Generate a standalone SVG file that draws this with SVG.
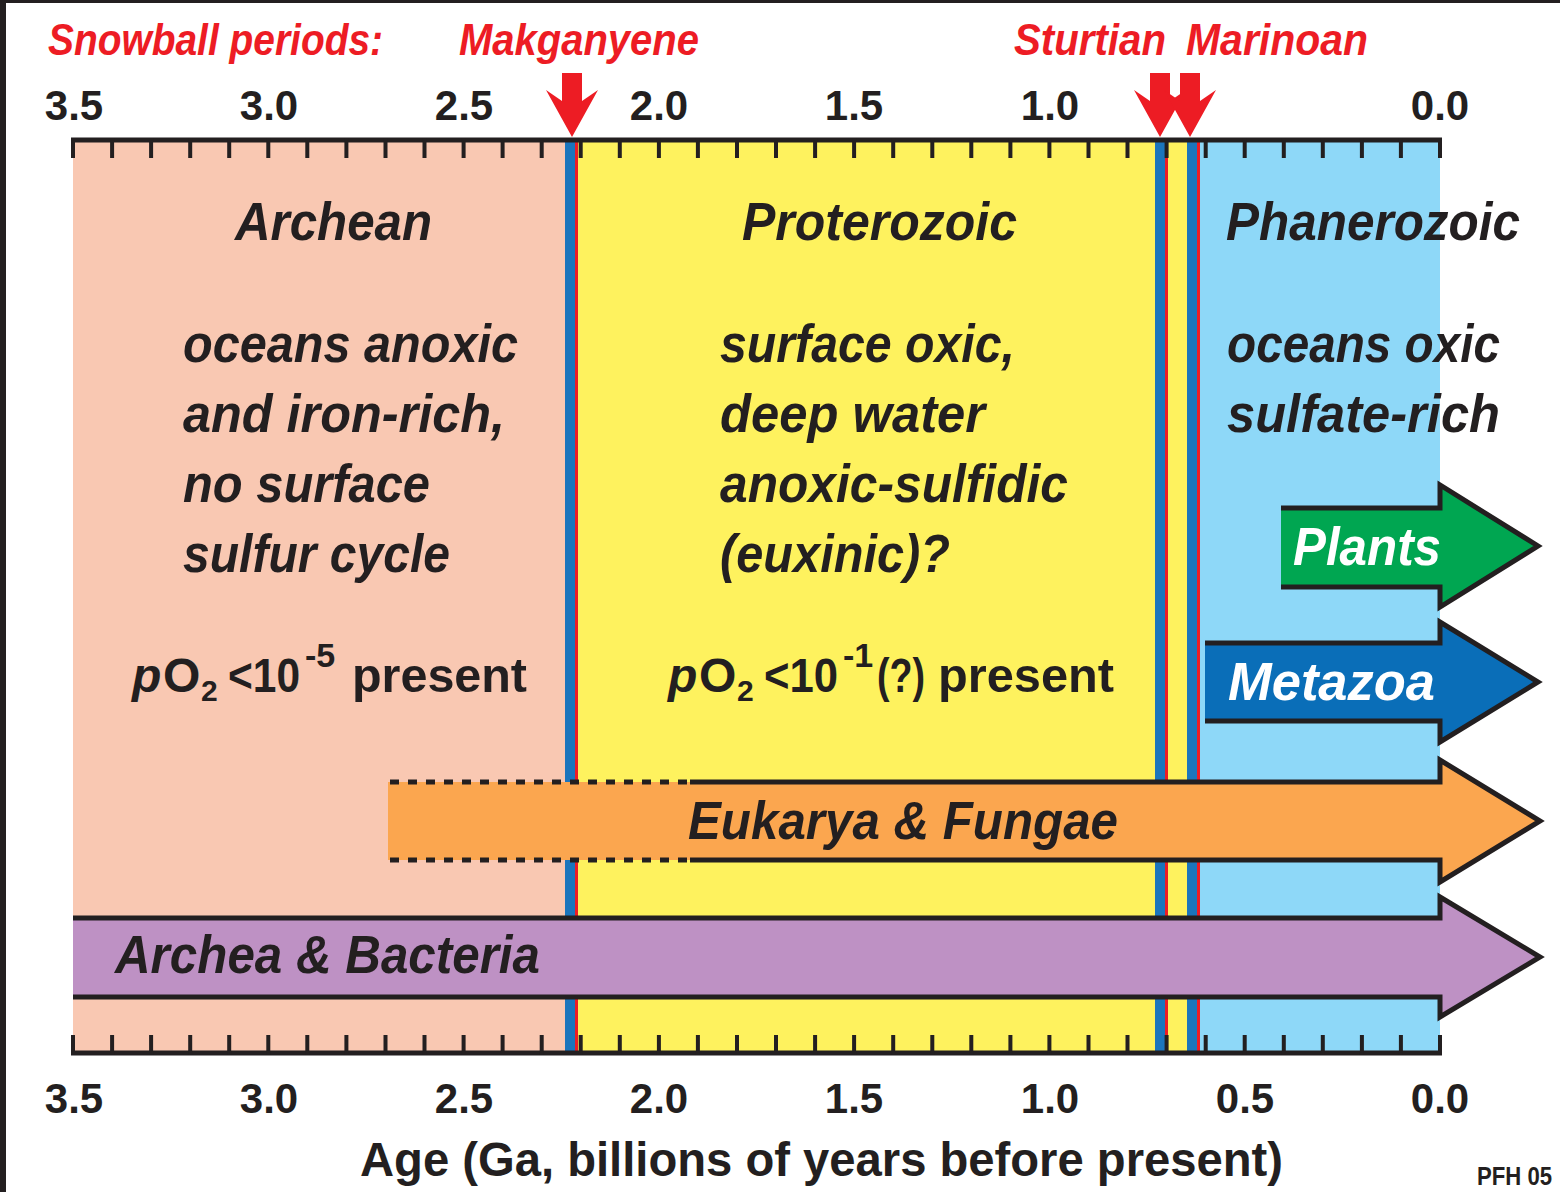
<svg xmlns="http://www.w3.org/2000/svg" width="1560" height="1192" viewBox="0 0 1560 1192">
<style>
.t{font-family:"Liberation Sans",Arial,sans-serif;font-weight:bold}
.i{font-style:italic}
.k{fill:#231F20}
.r{fill:#ED1C24}
.w{fill:#FFFFFF}
.big{font-size:54px}
.num{font-size:42px;text-anchor:middle}
.lab{font-size:44px}
.po{font-size:48px}
.sub{font-size:30px}
.sup{font-size:34px}
.ol{fill:none;stroke:#231F20;stroke-width:5;stroke-linejoin:miter}
.tick{fill:none;stroke:#231F20;stroke-width:4}
.ax{fill:none;stroke:#231F20;stroke-width:5}
</style>
<rect x="0" y="0" width="1560" height="1192" fill="#FFFFFF"/>
<rect x="0" y="0" width="6" height="1192" fill="#231F20"/>
<rect x="0" y="0" width="1560" height="3" fill="#231F20"/>

<g id="eons">
<rect id="archean-bg" x="73" y="140" width="497" height="913" fill="#F9C8B2"/>
<rect id="proterozoic-bg" x="570" y="140" width="630" height="913" fill="#FEF25E"/>
<rect id="phanerozoic-bg" x="1198" y="140" width="242" height="913" fill="#8ED8F8"/>
</g>

<g id="snowball-lines">
<rect x="565" y="140" width="10" height="913" fill="#1B75BC"/>
<rect x="575" y="140" width="3" height="913" fill="#ED1C24"/>
<rect x="1155" y="140" width="10" height="913" fill="#1B75BC"/>
<rect x="1165" y="140" width="3" height="913" fill="#ED1C24"/>
<rect x="1187" y="140" width="10" height="913" fill="#1B75BC"/>
<rect x="1197" y="140" width="3" height="913" fill="#ED1C24"/>
</g>

<g id="axes">
<path class="ax" d="M71,140H1442M71,1053H1442"/>
<path class="tick" d="M73,138V158M112.1,138V158M151.1,138V158M190.2,138V158M229.2,138V158M268.3,138V158M307.3,138V158M346.4,138V158M385.5,138V158M424.5,138V158M463.6,138V158M502.6,138V158M541.7,138V158M580.7,138V158M619.8,138V158M658.9,138V158M697.9,138V158M737,138V158M776,138V158M815.1,138V158M854.1,138V158M893.2,138V158M932.3,138V158M971.3,138V158M1010.4,138V158M1049.4,138V158M1088.5,138V158M1127.5,138V158M1166.6,138V158M1205.7,138V158M1244.7,138V158M1283.8,138V158M1322.8,138V158M1361.9,138V158M1400.9,138V158M1440,138V158"/>
<path class="tick" d="M73,1035V1055M112.1,1035V1055M151.1,1035V1055M190.2,1035V1055M229.2,1035V1055M268.3,1035V1055M307.3,1035V1055M346.4,1035V1055M385.5,1035V1055M424.5,1035V1055M463.6,1035V1055M502.6,1035V1055M541.7,1035V1055M580.7,1035V1055M619.8,1035V1055M658.9,1035V1055M697.9,1035V1055M737,1035V1055M776,1035V1055M815.1,1035V1055M854.1,1035V1055M893.2,1035V1055M932.3,1035V1055M971.3,1035V1055M1010.4,1035V1055M1049.4,1035V1055M1088.5,1035V1055M1127.5,1035V1055M1166.6,1035V1055M1205.7,1035V1055M1244.7,1035V1055M1283.8,1035V1055M1322.8,1035V1055M1361.9,1035V1055M1400.9,1035V1055M1440,1035V1055"/>
<g class="t k num">
<text x="74" y="120">3.5</text>
<text x="269" y="120">3.0</text>
<text x="464" y="120">2.5</text>
<text x="659" y="120">2.0</text>
<text x="854" y="120">1.5</text>
<text x="1050" y="120">1.0</text>
<text x="1440" y="120">0.0</text>
<text x="74" y="1113">3.5</text>
<text x="269" y="1113">3.0</text>
<text x="464" y="1113">2.5</text>
<text x="659" y="1113">2.0</text>
<text x="854" y="1113">1.5</text>
<text x="1050" y="1113">1.0</text>
<text x="1245" y="1113">0.5</text>
<text x="1440" y="1113">0.0</text>
</g>
<text class="t k" x="360" y="1176" font-size="48" textLength="923" lengthAdjust="spacingAndGlyphs">Age (Ga, billions of years before present)</text>
<text class="t k" x="1477" y="1185" font-size="25" textLength="75" lengthAdjust="spacingAndGlyphs">PFH 05</text>
</g>

<g id="snowball-markers">
<text class="t i r lab" x="48" y="55" textLength="335" lengthAdjust="spacingAndGlyphs">Snowball periods:</text>
<text class="t i r lab" x="459" y="55" textLength="240" lengthAdjust="spacingAndGlyphs">Makganyene</text>
<text class="t i r lab" x="1014" y="55" textLength="152" lengthAdjust="spacingAndGlyphs">Sturtian</text>
<text class="t i r lab" x="1186" y="55" textLength="182" lengthAdjust="spacingAndGlyphs">Marinoan</text>
<polygon class="r" points="562,73 582,73 582,101 598,90 572,137 546,90 562,101"/>
<polygon class="r" points="1150,73 1170,73 1170,101 1186,90 1160,137 1134,90 1150,101"/>
<polygon class="r" points="1180,73 1200,73 1200,101 1216,90 1190,137 1164,90 1180,101"/>
</g>

<g id="eon-labels" class="t i k big">
<text x="235" y="240" textLength="197" lengthAdjust="spacingAndGlyphs">Archean</text>
<text x="742" y="240" textLength="275" lengthAdjust="spacingAndGlyphs">Proterozoic</text>
<text x="1226" y="240" textLength="294" lengthAdjust="spacingAndGlyphs">Phanerozoic</text>
<text x="183" y="362" textLength="335" lengthAdjust="spacingAndGlyphs">oceans anoxic</text>
<text x="183" y="432" textLength="322" lengthAdjust="spacingAndGlyphs">and iron-rich,</text>
<text x="183" y="502" textLength="247" lengthAdjust="spacingAndGlyphs">no surface</text>
<text x="183" y="572" textLength="267" lengthAdjust="spacingAndGlyphs">sulfur cycle</text>
<text x="720" y="362" textLength="295" lengthAdjust="spacingAndGlyphs">surface oxic,</text>
<text x="720" y="432" textLength="265" lengthAdjust="spacingAndGlyphs">deep water</text>
<text x="720" y="502" textLength="348" lengthAdjust="spacingAndGlyphs">anoxic-sulfidic</text>
<text x="720" y="572" textLength="230" lengthAdjust="spacingAndGlyphs">(euxinic)?</text>
<text x="1227" y="362" textLength="273" lengthAdjust="spacingAndGlyphs">oceans oxic</text>
<text x="1227" y="432" textLength="273" lengthAdjust="spacingAndGlyphs">sulfate-rich</text>
</g>

<g id="oxygen-labels" class="t k po">
<text x="132" y="692"><tspan class="i">p</tspan><tspan x="163">O</tspan><tspan class="sub" x="201" y="701">2</tspan><tspan x="228" y="692" textLength="72" lengthAdjust="spacingAndGlyphs">&lt;10</tspan><tspan class="sup" x="305" y="667">-5</tspan><tspan x="352" y="692" textLength="175" lengthAdjust="spacingAndGlyphs">present</tspan></text>
<text x="668" y="692"><tspan class="i">p</tspan><tspan x="699">O</tspan><tspan class="sub" x="737" y="701">2</tspan><tspan x="764" y="692" textLength="74" lengthAdjust="spacingAndGlyphs">&lt;10</tspan><tspan class="sup" x="843" y="667">-1</tspan><tspan x="877" y="692" textLength="48" lengthAdjust="spacingAndGlyphs">(?)</tspan><tspan x="938" y="692" textLength="176" lengthAdjust="spacingAndGlyphs">present</tspan></text>
</g>

<g id="life-arrows">
<g id="plants">
<polygon fill="#00A651" points="1281,508 1440,508 1440,485 1538,546 1440,607 1440,587 1281,587"/>
<path class="ol" d="M1281,508H1440V485L1538,546L1440,607V587H1281"/>
<text class="t i w big" x="1293" y="565" textLength="148" lengthAdjust="spacingAndGlyphs">Plants</text>
</g>
<g id="metazoa">
<polygon fill="#0A6EB8" points="1205,643 1440,643 1440,622 1538,682 1440,742 1440,721 1205,721"/>
<path class="ol" d="M1205,643H1440V622L1538,682L1440,742V721H1205"/>
<text class="t i w big" x="1228" y="700" textLength="207" lengthAdjust="spacingAndGlyphs">Metazoa</text>
</g>
<g id="eukarya">
<polygon fill="#FBA64F" points="388,782 1440,782 1440,760 1540,821 1440,882 1440,860 388,860"/>
<path class="ol" d="M690,782H1440V760L1540,821L1440,882V860H690"/>
<path class="ol" stroke-dasharray="9 9" d="M390,782H690M390,860H690"/>
<text class="t i k big" x="688" y="839" textLength="430" lengthAdjust="spacingAndGlyphs">Eukarya &amp; Fungae</text>
</g>
<g id="archea">
<polygon fill="#BE91C4" points="73,918 1440,918 1440,897 1540,957 1440,1017 1440,997 73,997"/>
<path class="ol" d="M73,918H1440V897L1540,957L1440,1017V997H73"/>
<text class="t i k big" x="115" y="973" textLength="425" lengthAdjust="spacingAndGlyphs">Archea &amp; Bacteria</text>
</g>
</g>
</svg>
